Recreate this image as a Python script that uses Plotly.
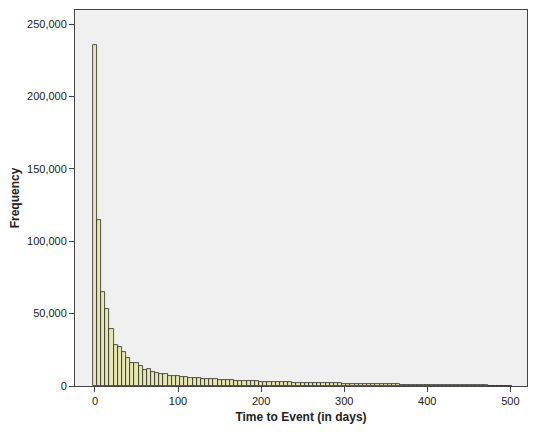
import plotly.graph_objects as go

bin_centers = [5 * i for i in range(101)]
frequency = [
    235500, 114600, 65100, 53000, 39400, 28300, 27100, 23300, 19100, 16100,
    16100, 14000, 11000, 11500, 9900, 9000, 8500, 8000, 7000, 6800,
    6600, 6200, 6000, 5700, 5500, 5300, 5100, 4900, 4700, 4600,
    4400, 4200, 4100, 3900, 3800, 3700, 3500, 3400, 3300, 3200,
    3100, 3000, 2900, 2800, 2700, 2650, 2550, 2500, 2400, 2350,
    2250, 2200, 2100, 2050, 2000, 1950, 1900, 1850, 1800, 1750,
    1700, 1650, 1600, 1550, 1500, 1450, 1400, 1350, 1300, 1250,
    1200, 1150, 1100, 1050, 1000, 960, 920, 880, 840, 800,
    760, 720, 690, 660, 630, 600, 570, 540, 510, 480,
    450, 420, 400, 380, 360, 340, 320, 300, 280, 260, 240,
]

fig = go.Figure(go.Bar(
    x=bin_centers, y=frequency, width=5,
    marker=dict(color="#e6e6b0", line=dict(color="#2a2a2a", width=0.8)),
))
fig.update_layout(
    width=524, height=416, paper_bgcolor="white", plot_bgcolor="#f0f0f0",
    margin=dict(l=67, r=5, t=2, b=38), bargap=0, showlegend=False,
    font=dict(family="Arial, Liberation Sans", size=11, color="#222"),
)
fig.update_xaxes(range=[-24, 520], tickvals=[0, 100, 200, 300, 400, 500],
                 ticks="outside", ticklen=5, showgrid=False, zeroline=False,
                 showline=True, linecolor="#444", mirror=True, automargin=False,
                 title=dict(text="<b>Time to Event (in days)</b>", font=dict(size=12), standoff=6))
fig.update_yaxes(range=[0, 259700], tickvals=[0, 50000, 100000, 150000, 200000, 250000],
                 tickformat=",", ticks="outside", ticklen=5, showgrid=False, zeroline=False,
                 showline=True, linecolor="#444", mirror=True, automargin=False,
                 title=dict(text="<b>Frequency</b>", font=dict(size=12), standoff=6))
fig.write_html("out.html")
